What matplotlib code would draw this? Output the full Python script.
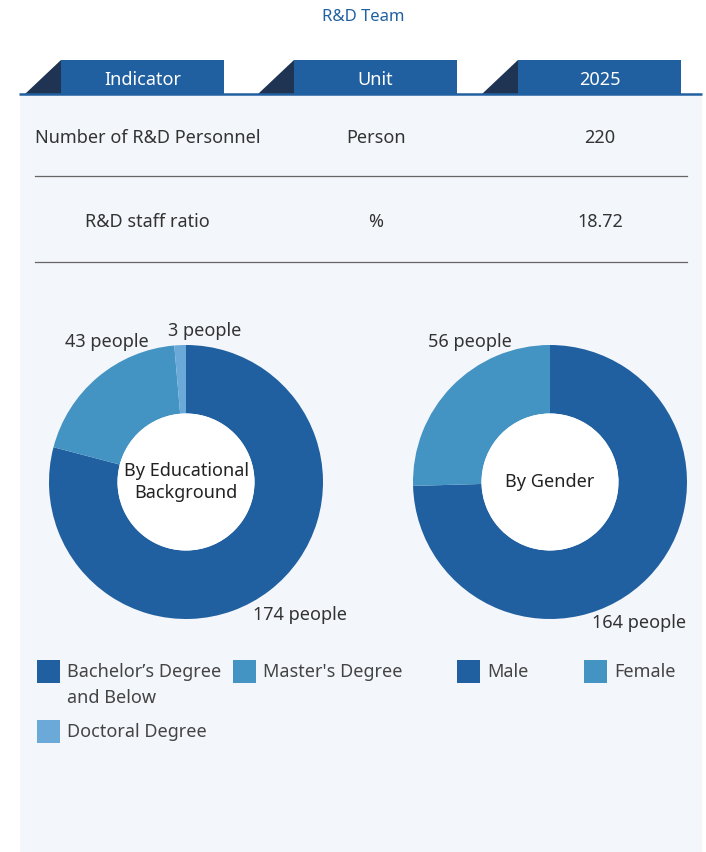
import matplotlib
matplotlib.use("Agg")
import matplotlib.pyplot as plt
from matplotlib.patches import Rectangle, Polygon, Circle

plt.rcParams['font.family'] = ['Noto Sans', 'DejaVu Sans']

# table data
headers = ['Indicator', 'Unit', '2025']
rows = [['Number of R&D Personnel', 'Person', '220'],
        ['R&D staff ratio', '%', '18.72']]

# pie data
edu_labels = ["Bachelor\u2019s Degree\nand Below", "Master's Degree", "Doctoral Degree"]
edu_values = [174, 43, 3]
gender_labels = ['Male', 'Female']
gender_values = [164, 56]

BLUE = '#2160A0'
MID = '#4393C3'
LIGHT = '#6BAAD8'
DARK = '#1E3452'
PANEL = '#F3F6FA'
TXT = '#333333'

W, H = 706, 852
fig = plt.figure(figsize=(W / 100, H / 100), dpi=100)
fig.patch.set_facecolor('white')
ax = fig.add_axes([0, 0, 1, 1])
ax.set_xlim(0, W)
ax.set_ylim(H, 0)
ax.axis('off')

ax.text(363, 17, 'R&D Team', color=BLUE, fontsize=12, ha='center', va='center')

# panel
ax.add_patch(Rectangle((20, 95), 682, 760, color=PANEL, lw=0))
ax.plot([19, 702], [94, 94], color=BLUE, lw=1.8, solid_capstyle='butt')

# header tabs
tab_x = [25, 258, 482]
for x0, h in zip(tab_x, headers):
    ax.add_patch(Polygon([(x0, 94), (x0 + 36, 60), (x0 + 36, 94)], closed=True,
                         color=DARK, lw=0))
    ax.add_patch(Rectangle((x0 + 36, 60), 163, 34, color=BLUE, lw=0))
    ax.text(x0 + 36 + 81.5, 80, h, color='white', fontsize=13, ha='center', va='center')

# table rows
row_y = [138, 222]
for y, (name, unit, val) in zip(row_y, rows):
    if len(name) > 18:
        ax.text(35, y, name, color=TXT, fontsize=13, ha='left', va='center')
    else:
        ax.text(147, y, name, color=TXT, fontsize=13, ha='center', va='center')
    ax.text(376, y, unit, color=TXT, fontsize=13, ha='center', va='center')
    ax.text(600, y, val, color=TXT, fontsize=13, ha='center', va='center')
for y in [176, 262]:
    ax.plot([35, 687], [y, y], color='#666666', lw=0.9)

R = 137


def donut(cx, cy, values, colors, center_text):
    pax = fig.add_axes([(cx - R) / W, (H - cy - R) / H, 2 * R / W, 2 * R / H])
    pax.pie(values, colors=colors, startangle=90, counterclock=False,
            radius=1, wedgeprops=dict(width=0.5, linewidth=0))
    pax.add_patch(Circle((0, 0), 0.5, color='white', lw=0))
    pax.text(0, 0, center_text, ha='center', va='center', fontsize=13,
             color='#222222', linespacing=1.3)
    pax.set_xlim(-1, 1)
    pax.set_ylim(-1, 1)
    pax.set_aspect('equal')
    pax.axis('off')


donut(186, 482, edu_values, [BLUE, MID, LIGHT], 'By Educational\nBackground')
donut(550, 482, gender_values, [BLUE, MID], 'By Gender')

lab_kw = dict(color=TXT, fontsize=13, ha='center', va='center')
ax.text(300, 615, f'{edu_values[0]} people', **lab_kw)
ax.text(107, 342, f'{edu_values[1]} people', **lab_kw)
ax.text(205, 331, f'{edu_values[2]} people', **lab_kw)
ax.text(639, 623, f'{gender_values[0]} people', **lab_kw)
ax.text(470, 342, f'{gender_values[1]} people', **lab_kw)

# legend
leg_items = [(37, 660, BLUE, edu_labels[0]), (233, 660, MID, edu_labels[1]),
             (37, 720, LIGHT, edu_labels[2]),
             (457, 660, BLUE, gender_labels[0]), (584, 660, MID, gender_labels[1])]
for x, y, c, t in leg_items:
    ax.add_patch(Rectangle((x, y), 23, 23, color=c, lw=0))
    ax.text(x + 30, y + 3, t, color='#444444', fontsize=13, ha='left', va='top',
            linespacing=1.55)

fig.savefig('out.png', dpi=100, facecolor='white')
